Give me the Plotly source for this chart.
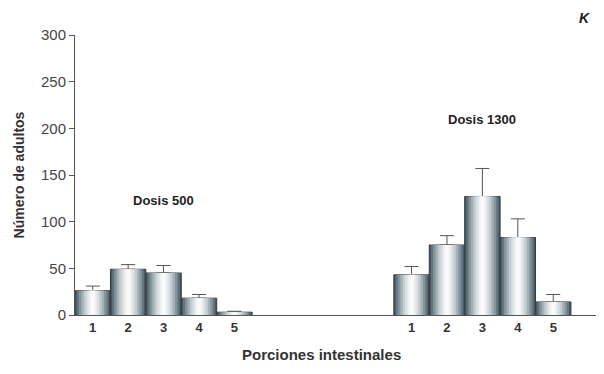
import plotly.graph_objects as go

portions = ["1", "2", "3", "4", "5"]
dose500_mean = [26, 49, 45, 18, 3]
dose500_err = [5, 5, 8, 4, 1]
dose1300_mean = [43, 75, 127, 83, 14]
dose1300_err = [9, 10, 30, 20, 8]
group_labels = ["Dosis 500", "Dosis 1300"]
y_ticks = [0, 50, 100, 150, 200, 250, 300]

group_offset = [0, 9]
x1 = [group_offset[0] + i for i in range(len(portions))]
x2 = [group_offset[1] + i for i in range(len(portions))]
xs = x1 + x2
ys = dose500_mean + dose1300_mean
errs = dose500_err + dose1300_err

# layered bars to imitate cylindrical shading
layers = [
    (1.0, "#465a66"),
    (0.9, "#62767f"),
    (0.78, "#84959d"),
    (0.64, "#a6b2b8"),
    (0.5, "#c4cdd1"),
    (0.36, "#dce2e4"),
    (0.22, "#eef1f2"),
    (0.1, "#fbfbfb"),
]

fig = go.Figure()
for i, (w, c) in enumerate(layers):
    kw = {}
    if i == 0:
        kw["error_y"] = dict(type="data", symmetric=False, array=errs,
                             arrayminus=[0] * len(errs), color="#555555",
                             thickness=1, width=7)
        kw["marker"] = dict(color=c, line=dict(color="#3a3a3a", width=1))
    else:
        kw["marker"] = dict(color=c, line=dict(width=0))
    fig.add_trace(go.Bar(x=xs, y=ys, width=w, hoverinfo="skip", showlegend=False, **kw))

fig.update_layout(
    barmode="overlay",
    width=596, height=366,
    margin=dict(l=67, r=4, t=27, b=59),
    paper_bgcolor="white", plot_bgcolor="white",
    font=dict(family="Liberation Sans, Arial, sans-serif", color="#333333"),
    showlegend=False,
)
fig.update_xaxes(
    range=[-0.5, 14.32],
    tickvals=xs, ticktext=["<b>" + p + "</b>" for p in portions + portions],
    tickfont=dict(size=13, color="#333333", family="Liberation Sans, Arial, sans-serif"),
    showline=True, linecolor="#555555", linewidth=1,
    ticks="", showgrid=False, zeroline=False,
)
fig.update_yaxes(
    range=[0, 300], tickvals=y_ticks,
    tickfont=dict(size=15, color="#444444"),
    showline=True, linecolor="#555555", linewidth=1,
    ticks="outside", ticklen=5, tickcolor="#555555",
    showgrid=False, zeroline=False,
    title=dict(text="<b>Número de adultos</b>", font=dict(size=14, color="#333333"), standoff=13),
)
fig.add_annotation(xref="paper", yref="paper", x=0.469, y=-0.142, yanchor="middle",
                   text="<b>Porciones intestinales</b>", showarrow=False,
                   font=dict(size=15, color="#333333"))
fig.add_annotation(x=2, y=123, text="<b>" + group_labels[0] + "</b>", showarrow=False,
                   font=dict(size=13, color="#222222"))
fig.add_annotation(x=11, y=210, text="<b>" + group_labels[1] + "</b>", showarrow=False,
                   font=dict(size=13, color="#222222"))
fig.add_annotation(xref="paper", yref="paper", x=0.985, y=1.061, yanchor="middle",
                   text="<b><i>K</i></b>", showarrow=False, xanchor="right",
                   font=dict(size=14, color="#222222"))

fig.write_html("out.html")
